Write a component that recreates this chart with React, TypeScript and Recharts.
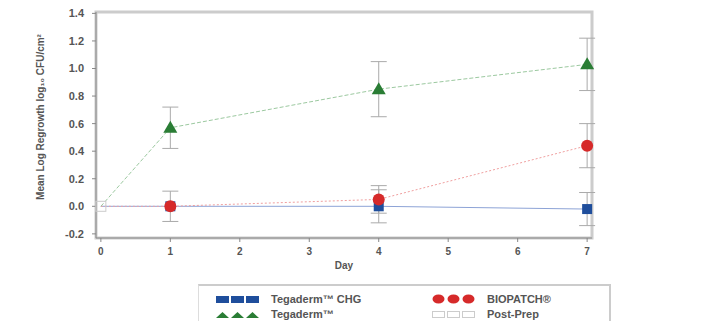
import { LineChart, Line, XAxis, YAxis, ErrorBar, ReferenceArea } from 'recharts';

// values (log10 CFU/cm²)
const days = [0, 1, 4, 7];
const chgVals = [0, 0, 0, -0.02];
const chgErrs = [0, 0, 0.12, 0.12];
const bioVals = [0, 0.0, 0.05, 0.44];
const bioErrs = [0, 0.11, 0.1, 0.16];
const tegVals = [0, 0.57, 0.85, 1.03];
const tegErrs = [0, 0.15, 0.2, 0.19];
const postVals = [0, null, null, null];

const yTicks = [-0.2, 0, 0.2, 0.4, 0.6, 0.8, 1.0, 1.2, 1.4];
const xTicks = [0, 1, 2, 3, 4, 5, 6, 7];

const data = days.map((d, i) => ({
  day: d,
  chg: chgVals[i],
  chgErr: chgErrs[i],
  bio: bioVals[i],
  bioErr: bioErrs[i],
  teg: tegVals[i],
  tegErr: tegErrs[i],
  post: postVals[i],
}));

const BLUE = '#1f4e9c';
const RED = '#d62a2a';
const GREEN = '#2a7d35';
const TXT = '#555';
const FONT = '"Liberation Sans", Arial, sans-serif';

const Square = (props: any) => {
  const { cx, cy, index } = props;
  if (cx == null || cy == null || index === 0) return <g key={`s-${index}`} />;
  return <rect key={`s-${index}`} x={cx - 5} y={cy - 5} width={10} height={10} fill={BLUE} />;
};

const Circle = (props: any) => {
  const { cx, cy, index } = props;
  if (cx == null || cy == null || index === 0) return <g key={`c-${index}`} />;
  return <circle key={`c-${index}`} cx={cx} cy={cy} r={6} fill={RED} />;
};

const Triangle = (props: any) => {
  const { cx, cy, index } = props;
  if (cx == null || cy == null || index === 0) return <g key={`t-${index}`} />;
  return <path key={`t-${index}`} d={`M${cx},${cy - 7} L${cx + 7},${cy + 5} L${cx - 7},${cy + 5} Z`} fill={GREEN} />;
};

const OpenSquare = (props: any) => {
  const { cx, cy, index } = props;
  if (cx == null || cy == null) return <g key={`o-${index}`} />;
  return <rect key={`o-${index}`} x={cx - 5} y={cy - 5} width={10} height={10} fill="none" stroke="#ccc" strokeWidth={1} />;
};

const legendSym = (kind: string) => {
  const items = [0, 1, 2].map((i) => {
    const x = i * 15;
    if (kind === 'sq') return <rect key={i} x={x} y={3} width={13} height={7} fill={BLUE} />;
    if (kind === 'ci') return <ellipse key={i} cx={x + 6.5} cy={6} rx={6} ry={4.5} fill={RED} />;
    if (kind === 'tr') return <path key={i} d={`M${x + 6.5},4 L${x + 13},10 L${x},10 Z`} fill={GREEN} />;
    return <rect key={i} x={x + 0.5} y={3.5} width={12} height={6} fill="none" stroke="#ccc" />;
  });
  return <svg width={44} height={12} style={{ marginRight: 11 }}>{items}</svg>;
};

const LegendBox = () => {
  const row = (a: [string, string], b: [string, string]) => (
    <div style={{ display: 'flex', height: 15, alignItems: 'center' }}>
      <div style={{ width: 233, display: 'flex', alignItems: 'center', paddingLeft: 17, boxSizing: 'border-box' }}>
        {legendSym(a[0])}<span>{a[1]}</span>
      </div>
      <div style={{ display: 'flex', alignItems: 'center' }}>
        {legendSym(b[0])}<span>{b[1]}</span>
      </div>
    </div>
  );
  return (
    <div
      style={{
        position: 'absolute', left: 198, top: 284, width: 413, height: 37,
        borderTop: '2px solid #ccc', borderLeft: '1px solid #ddd', borderRight: '2px solid #ccc',
        fontFamily: FONT, fontSize: 11, fontWeight: 'bold', color: TXT, paddingTop: 5, boxSizing: 'border-box',
      }}
    >
      {row(['sq', 'Tegaderm™ CHG'], ['ci', 'BIOPATCH®'])}
      {row(['tr', 'Tegaderm™'], ['op', 'Post-Prep'])}
    </div>
  );
};

export default function App() {
  return (
    <div style={{ position: 'absolute', left: 0, top: 0, width: 728, height: 321, background: '#fff' }}>
      <LineChart
        width={728}
        height={321}
        data={data}
        margin={{ top: 12, right: 136, left: 0, bottom: 0 }}
        style={{ fontFamily: FONT }}
      >
        <ReferenceArea
          x1={-0.07}
          x2={7.07}
          y1={-0.23}
          y2={1.41}
          fill="none"
          stroke="#ccc"
          strokeWidth={3}
          ifOverflow="visible"
        />
        <XAxis
          dataKey="day"
          type="number"
          domain={[-0.07, 7.07]}
          ticks={xTicks}
          height={83}
          stroke="#888"
          tickSize={4}
          tick={{ fill: TXT, fontSize: 10, fontWeight: 'bold' }}
          tickMargin={6}
          label={{ value: 'Day', position: 'insideTop', offset: 24, fill: TXT, fontSize: 10, fontWeight: 'bold' }}
        />
        <YAxis
          type="number"
          domain={[-0.23, 1.41]}
          ticks={yTicks}
          width={96}
          stroke="#888"
          tickSize={4}
          tickMargin={8}
          tickFormatter={(v: number) => v.toFixed(1)}
          tick={{ fill: TXT, fontSize: 11, fontWeight: 'bold' }}
          label={{
            value: 'Mean Log Regrowth log₁₀ CFU/cm²',
            angle: -90,
            position: 'insideLeft',
            offset: 40,
            dy: -8,
            style: { textAnchor: 'middle', fill: TXT, fontSize: 10, fontWeight: 'bold' },
          }}
        />
        <Line
          dataKey="post"
          stroke="#ddd"
          dot={OpenSquare}
          isAnimationActive={false}
          connectNulls={false}
        />
        <Line dataKey="chg" stroke="#8da3d6" strokeWidth={1} dot={Square} isAnimationActive={false}>
          <ErrorBar dataKey="chgErr" width={8} stroke="#aaa" strokeWidth={1} />
        </Line>
        <Line dataKey="bio" stroke="#f0a0a0" strokeWidth={1} strokeDasharray="2 2" dot={Circle} isAnimationActive={false}>
          <ErrorBar dataKey="bioErr" width={8} stroke="#aaa" strokeWidth={1} />
        </Line>
        <Line dataKey="teg" stroke="#9cc9a0" strokeWidth={1} strokeDasharray="4 2" dot={Triangle} isAnimationActive={false}>
          <ErrorBar dataKey="tegErr" width={8} stroke="#aaa" strokeWidth={1} />
        </Line>
      </LineChart>
      <LegendBox />
    </div>
  );
}
